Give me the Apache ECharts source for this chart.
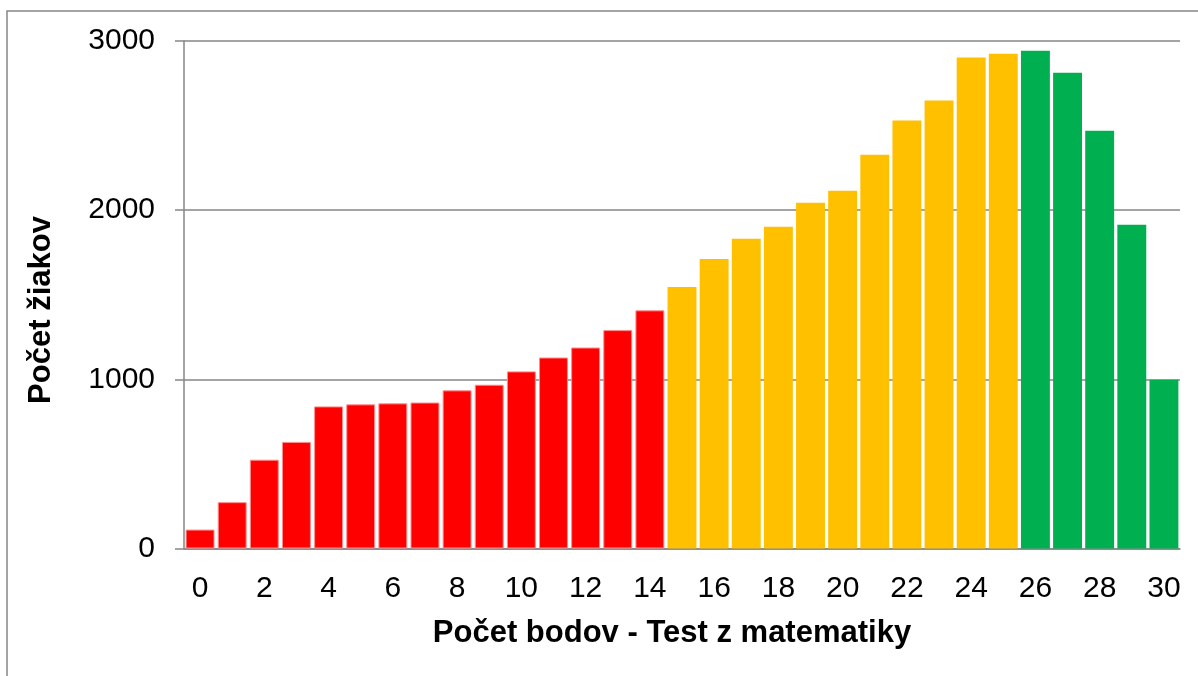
<!DOCTYPE html>
<html>
<head>
<meta charset="utf-8">
<script src="https://cdn.jsdelivr.net/npm/echarts@6/dist/echarts.min.js"></script>
<style>
html,body{margin:0;padding:0;background:#fff;}
#c{width:1198px;height:676px;}
</style>
</head>
<body>
<div id="c"></div>
<script>
const categories = ['0','1','2','3','4','5','6','7','8','9','10','11','12','13','14','15','16','17','18','19','20','21','22','23','24','25','26','27','28','29','30'];
const values = [112,274,525,630,840,852,858,863,935,968,1047,1129,1188,1291,1408,1546,1712,1831,1902,2044,2115,2327,2530,2648,2902,2925,2943,2813,2470,1914,998];
const bandRed = [0, 14];
const bandYellow = [15, 25];
const bandGreen = [26, 30];
const yTicks = [0, 1000, 2000, 3000];
const xTitle = 'Počet bodov - Test z matematiky';
const yTitle = 'Počet žiakov';

const colorFor = (i) => {
  if (i >= bandRed[0] && i <= bandRed[1]) return '#FF0000';
  if (i >= bandYellow[0] && i <= bandYellow[1]) return '#FFC000';
  return '#00B050';
};

const chart = echarts.init(document.getElementById('c'), null, {renderer: 'canvas'});
const font = '"Liberation Sans", Arial, sans-serif';
chart.setOption({
  animation: false,
  backgroundColor: '#fff',
  grid: {left: 184, right: 18, top: 41, bottom: 127.5, containLabel: false},
  xAxis: {
    type: 'category',
    data: categories,
    axisLine: {show: true, lineStyle: {color: '#868686', width: 1.5}},
    axisTick: {show: false},
    axisLabel: {interval: 1, color: '#000', fontFamily: font, fontSize: 30, margin: 25}
  },
  yAxis: {
    type: 'value',
    min: yTicks[0],
    max: yTicks[yTicks.length - 1],
    interval: 1000,
    axisLine: {show: true, lineStyle: {color: '#868686', width: 1.5}},
    axisTick: {show: true, length: 9, lineStyle: {color: '#868686', width: 1.5}},
    splitLine: {show: true, lineStyle: {color: '#868686', width: 1.5}},
    axisLabel: {color: '#000', fontFamily: font, fontSize: 30, margin: 29, formatter: (v) => String(v)}
  },
  series: [{
    type: 'bar',
    barCategoryGap: '10%',
    data: values.map((v, i) => {
      const c = colorFor(i);
      return {
        value: v,
        itemStyle: c === '#FF0000'
          ? {color: c, borderColor: 'rgba(255,140,140,1)', borderWidth: 1}
          : {color: c}
      };
    })
  }],
  graphic: [
    {type: 'rect', shape: {x: 7, y: 11, width: 1250, height: 720}, style: {fill: 'none', stroke: '#868686', lineWidth: 1.5}, z: 100},
    {type: 'text', x: 672, y: 633, style: {text: xTitle, font: 'bold 31px ' + font, fill: '#000', textAlign: 'center', textVerticalAlign: 'middle'}},
    {type: 'text', x: 41, y: 310, rotation: Math.PI / 2, style: {text: yTitle, font: 'bold 31px ' + font, fill: '#000', textAlign: 'center', textVerticalAlign: 'middle'}}
  ]
});
</script>
</body>
</html>
